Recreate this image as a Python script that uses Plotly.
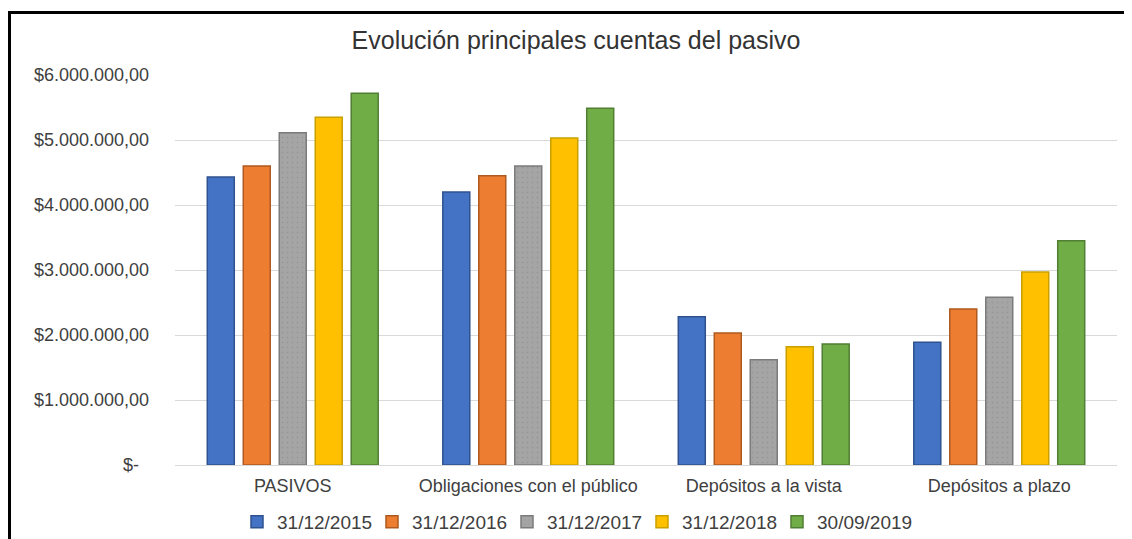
import plotly.graph_objects as go

categories = ["PASIVOS", "Obligaciones con el público", "Depósitos a la vista", "Depósitos a plazo"]
series_names = ["31/12/2015", "31/12/2016", "31/12/2017", "31/12/2018", "30/09/2019"]
v_2015 = [4430000, 4200000, 2280000, 1890000]
v_2016 = [4600000, 4450000, 2030000, 2400000]
v_2017 = [5110000, 4600000, 1620000, 2580000]
v_2018 = [5350000, 5030000, 1820000, 2970000]
v_2019 = [5720000, 5490000, 1860000, 3450000]
series_values = [v_2015, v_2016, v_2017, v_2018, v_2019]
tick_vals = [0, 1000000, 2000000, 3000000, 4000000, 5000000, 6000000]
tick_text = ["$-\u00a0\u00a0", "$1.000.000,00", "$2.000.000,00", "$3.000.000,00",
             "$4.000.000,00", "$5.000.000,00", "$6.000.000,00"]

fills = ["#4472C4", "#ED7D31", "#A5A5A5", "#FFC000", "#70AD47"]
lines = ["#2F528F", "#AE5A21", "#7B7B7B", "#C9A000", "#507E32"]

# page body has an 8px offset; figure coordinates = reference pixels - 8
OFF = 8
W, H = 1132, 539
L, T = 175 - OFF, 75 - OFF
R = W - (1117 - OFF)
B = H - (465 - OFF)
pw, ph = W - L - R, H - T - B

fig = go.Figure()
for i, (name, vals) in enumerate(zip(series_names, series_values)):
    marker = dict(color=fills[i], line=dict(color=lines[i], width=1.5))
    if i == 2:
        marker["pattern"] = dict(shape=".", fgcolor="#8A8A8A", size=5, solidity=0.12)
    fig.add_trace(go.Bar(name=name, x=categories, y=vals, marker=marker))

def px_x(p):
    return (p - OFF - L) / pw

def px_y(p):
    return (H - B - (p - OFF)) / ph

fig.add_shape(type="path", xref="paper", yref="paper",
              path=f"M {px_x(9.5)} {px_y(570)} L {px_x(9.5)} {px_y(12.5)} L {px_x(1160)} {px_y(12.5)}",
              line=dict(color="black", width=3))

fig.update_layout(
    width=W, height=H,
    margin=dict(l=L, r=R, t=T, b=B, autoexpand=False),
    paper_bgcolor="white", plot_bgcolor="white",
    barmode="group", bargap=0.236, bargroupgap=0.25,
    font=dict(family="Liberation Sans, Arial, sans-serif", color="#404040"),
    title=dict(text="Evolución principales cuentas del pasivo", x=(576 - OFF) / W, xref="container",
               y=1 - (40 - OFF) / H, yref="container", xanchor="center", yanchor="middle",
               font=dict(size=25, color="#333333")),
    legend=dict(orientation="h", x=(237 - OFF) / W, xref="container",
                y=1 - (522 - OFF) / H, yref="container", xanchor="left", yanchor="middle",
                entrywidth=90, entrywidthmode="pixels",
                font=dict(size=19, color="#404040"), traceorder="normal"),
    showlegend=True,
)
fig.update_yaxes(range=[0, 6000000], tickvals=tick_vals, ticktext=tick_text,
                 showgrid=True, gridcolor="#D9D9D9", gridwidth=1.3,
                 zeroline=True, zerolinecolor="#D9D9D9", zerolinewidth=1.3,
                 showline=False, ticks="", ticklabelstandoff=25, automargin=False,
                 tickfont=dict(size=18, color="#404040"))
fig.update_xaxes(showline=False, ticks="", ticklabelstandoff=8, automargin=False,
                 tickfont=dict(size=18, color="#404040"))

fig.write_html("out.html")
